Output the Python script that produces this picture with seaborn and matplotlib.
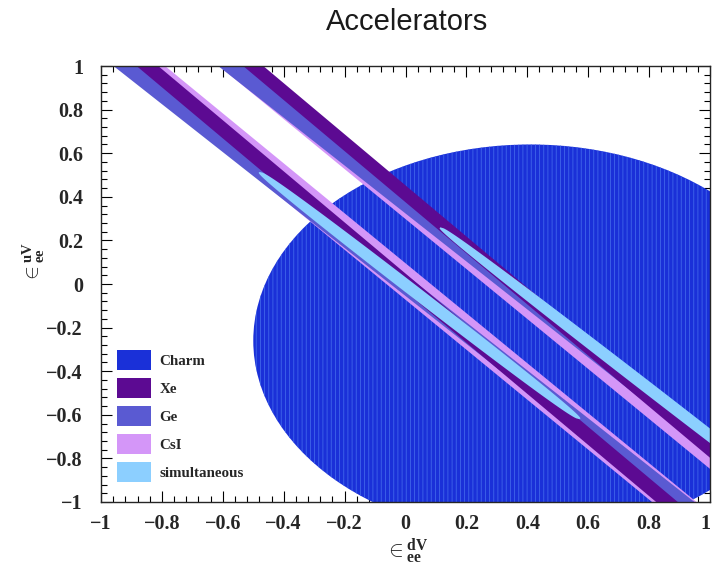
import numpy as np
import matplotlib
matplotlib.use("Agg")
import matplotlib.pyplot as plt
from matplotlib.patches import Ellipse, Patch
from matplotlib.ticker import MultipleLocator
import seaborn as sns

# Charm allowed region: ellipse in the (eps_d, eps_u) plane
charm_center = (0.41, -0.26)
charm_radii = (0.91, 0.90)

# Coherent scattering bands: eps_u = slope * (c - eps_d) for c in [lo, hi]
band_names = ["CsI", "Ge", "Xe"]
band_slopes = [1.146, 1.10, 1.172]
band_lower = [(-0.063, 0.083), (-0.050, 0.040), (-0.030, 0.041)]
band_upper = [(0.260, 0.380), (0.294, 0.384), (0.320, 0.386)]

# Simultaneous fit: thin lenses along the bands
sim_slope = 1.08
sim_center = [-0.003, 0.355]
sim_halfwidth = [0.032, 0.032]
sim_yrange = [(-0.62, 0.514), (-1.20, 0.26)]

tick_values = [-1.0, -0.8, -0.6, -0.4, -0.2, 0.0, 0.2, 0.4, 0.6, 0.8, 1.0]
tick_labels = ["\u22121", "\u22120.8", "\u22120.6", "\u22120.4", "\u22120.2", "0",
               "0.2", "0.4", "0.6", "0.8", "1"]

colors = {
    "Charm": "#1a30d8",
    "Xe": "#5c0a92",
    "Ge": "#5a5ad2",
    "CsI": "#d496f8",
    "simultaneous": "#8ccfff",
}
legend_order = ["Charm", "Xe", "Ge", "CsI", "simultaneous"]

sns.set_style("ticks")
plt.rcParams["hatch.linewidth"] = 0.6
plt.rcParams["mathtext.fontset"] = "custom"
plt.rcParams["mathtext.rm"] = "Liberation Serif"
plt.rcParams["mathtext.bf"] = "Liberation Serif:bold"
plt.rcParams["mathtext.it"] = "Liberation Serif:italic"
serif_bold = {"family": "Liberation Serif", "weight": "bold"}

fig = plt.figure(figsize=(7.13, 5.68), dpi=100)
ax = fig.add_axes([0.1417, 0.1162, 0.8541, 0.7676])

charm = Ellipse(charm_center, 2 * charm_radii[0], 2 * charm_radii[1],
                facecolor=colors["Charm"], edgecolor="#4066ea", linewidth=0,
                hatch="||||", zorder=1)
ax.add_patch(charm)

xg = np.linspace(-1.5, 1.5, 400)
for z, (name, s, lo, up) in enumerate(zip(band_names, band_slopes, band_lower, band_upper)):
    for c1, c2 in (lo, up):
        ax.fill_between(xg, s * (c1 - xg), s * (c2 - xg),
                        color=colors[name], linewidth=0, zorder=2 + z)

for c0, hw, (y0, y1) in zip(sim_center, sim_halfwidth, sim_yrange):
    yy = np.linspace(y0, y1, 300)
    t = (yy - 0.5 * (y0 + y1)) / (0.5 * (y1 - y0))
    w = hw * np.clip(1 - t ** 2, 0, None) ** 0.35
    xc = c0 - yy / sim_slope
    ax.fill(np.concatenate([xc - w, (xc + w)[::-1]]),
            np.concatenate([yy, yy[::-1]]),
            color=colors["simultaneous"], linewidth=0, zorder=6)

ax.set_xlim(-1, 1)
ax.set_ylim(-1, 1)
ax.set_xticks(tick_values)
ax.set_yticks(tick_values)
ax.set_xticklabels(tick_labels, fontdict=serif_bold, fontsize=14.5)
ax.set_yticklabels(tick_labels, fontdict=serif_bold, fontsize=14.5)
ax.get_xticklabels()[-1].set_horizontalalignment("right")
ax.xaxis.set_minor_locator(MultipleLocator(0.04))
ax.yaxis.set_minor_locator(MultipleLocator(0.04))
ax.tick_params(which="both", direction="in", top=True, right=True, width=0.8, color="black")
ax.tick_params(which="major", length=8)
ax.tick_params(which="minor", length=4)
ax.tick_params(axis="x", which="major", pad=9)
ax.tick_params(axis="y", which="major", pad=13)
for sp in ax.spines.values():
    sp.set_linewidth(1.0)
    sp.set_zorder(10)

fig.text(0.570, 0.030, r"$\in^{\mathbf{dV}}_{\mathbf{ee}}$", fontsize=16,
         ha="center", va="center")
fig.text(0.048, 0.537, r"$\in^{\mathbf{uV}}_{\mathbf{ee}}$", fontsize=15,
         ha="center", va="center", rotation=90)

fig.text(0.571, 0.961, "Accelerators", ha="center", va="center",
         fontsize=21, family="Liberation Sans", color="#1a1a1a")

handles = [Patch(facecolor=colors[n], edgecolor="none") for n in legend_order]
leg = ax.legend(handles, legend_order, loc="lower left", bbox_to_anchor=(0.026, 0.046),
                frameon=False, prop={"family": "Liberation Serif", "weight": "bold", "size": 10.8},
                handlelength=2.3, handleheight=1.65, labelspacing=0.55,
                handletextpad=0.55, borderpad=0, borderaxespad=0)
leg.set_zorder(12)

fig.savefig("out.png", dpi=100)
